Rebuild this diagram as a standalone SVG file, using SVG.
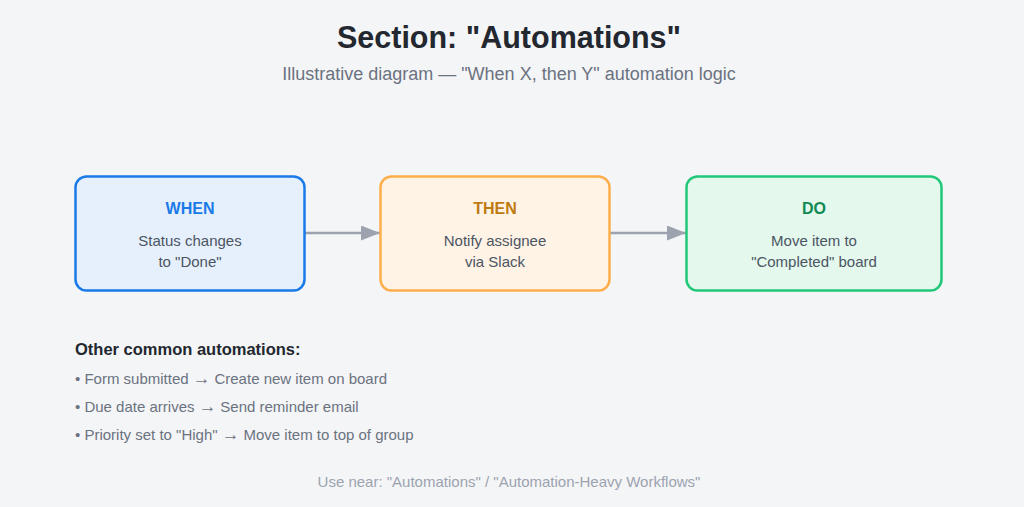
<svg xmlns="http://www.w3.org/2000/svg" width="1024" height="507" viewBox="0 0 1024 507">
<defs>
<style>
text{font-family:"Liberation Sans",Arial,sans-serif}
.title{font-size:30.5px;font-weight:bold;fill:#23272f;text-anchor:middle}
.sub{font-size:18px;fill:#6b7280;text-anchor:middle}
.head{font-size:16px;font-weight:bold;text-anchor:middle}
.body{font-size:15px;fill:#4b5563;text-anchor:middle}
.conn{stroke:#9ca3af;stroke-width:2.5;fill:none}
.list{font-size:15px;fill:#6b7280}
.ar{font-size:17.5px}
.lhead{font-size:16.5px;font-weight:bold;fill:#23272f}
.foot{font-size:15px;fill:#9ca3af;text-anchor:middle}
</style>
<marker id="ah" markerWidth="19" markerHeight="15" refX="19" refY="7.5" orient="auto" markerUnits="userSpaceOnUse" viewBox="0 0 19 15">
<path d="M0,0 L19,7.5 L0,15 z" fill="#9ca3af"/>
</marker>
</defs>
<rect width="1024" height="507" fill="#f4f5f7"/>
<text class="title" x="509" y="48">Section: "Automations"</text>
<text class="sub" x="509" y="80">Illustrative diagram — "When X, then Y" automation logic</text>
<g id="connectors">
<line class="conn" x1="305" y1="233" x2="380" y2="233" marker-end="url(#ah)"/>
<line class="conn" x1="610" y1="233" x2="686" y2="233" marker-end="url(#ah)"/>
</g>
<g id="when">
<rect x="75.5" y="176.5" width="229" height="114" rx="11" fill="#e6f0fd" stroke="#1a7ae8" stroke-width="2.5"/>
<text class="head" x="190" y="214" fill="#1a7ae8">WHEN</text>
<text class="body" x="190" y="246">Status changes</text>
<text class="body" x="190" y="267">to "Done"</text>
</g>
<g id="then">
<rect x="380.5" y="176.5" width="229" height="114" rx="11" fill="#fff3e5" stroke="#fdae4a" stroke-width="2.5"/>
<text class="head" x="495" y="214" fill="#c07a12">THEN</text>
<text class="body" x="495" y="246">Notify assignee</text>
<text class="body" x="495" y="267">via Slack</text>
</g>
<g id="do">
<rect x="686.5" y="176.5" width="255" height="114" rx="11" fill="#e4f8ed" stroke="#22c87a" stroke-width="2.5"/>
<text class="head" x="814" y="214" fill="#108a55">DO</text>
<text class="body" x="814" y="246">Move item to</text>
<text class="body" x="814" y="267">"Completed" board</text>
</g>
<g id="other">
<text class="lhead" x="75" y="355">Other common automations:</text>
<text class="list" x="75" y="384">• Form submitted <tspan class="ar">→</tspan> Create new item on board</text>
<text class="list" x="75" y="412">• Due date arrives <tspan class="ar">→</tspan> Send reminder email</text>
<text class="list" x="75" y="440">• Priority set to "High" <tspan class="ar">→</tspan> Move item to top of group</text>
</g>
<text class="foot" x="509" y="487">Use near: "Automations" / "Automation-Heavy Workflows"</text>
</svg>
